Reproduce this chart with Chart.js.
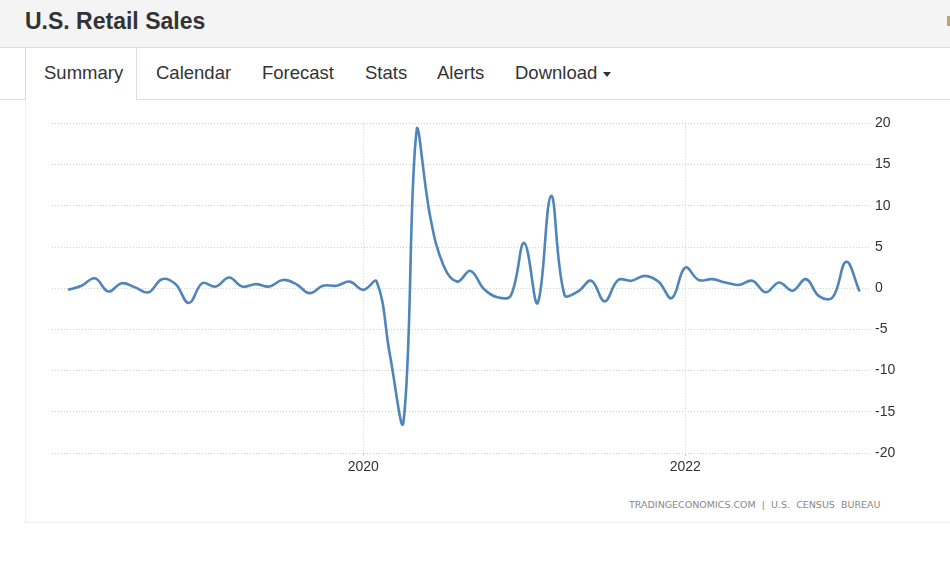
<!DOCTYPE html>
<html>
<head>
<meta charset="utf-8">
<script src="https://cdn.jsdelivr.net/npm/chart.js@4.4.0/dist/chart.umd.min.js"></script>
<style>
  body { margin: 0; width: 950px; height: 562px; background: #fff; overflow: hidden;
         font-family: "Liberation Sans", Arial, sans-serif; color: #333; position: relative; }
  .header { position: absolute; left: 0; top: 0; width: 950px; height: 47px; background: #f4f4f4;
            border-bottom: 1px solid #dcdcdc; }
  .header h1 { margin: 0; position: absolute; left: 25px; top: 8px; font-size: 23px; font-weight: bold; color: #333; }
  .header .mark { position: absolute; left: 947px; top: 16px; width: 3px; height: 10px; background: #c8a060; }
  .tabline { position: absolute; top: 99px; height: 1px; background: #ddd; }
  .tab { position: absolute; top: 62px; font-size: 18.5px; color: #333; }
  .active { position: absolute; left: 25px; top: 48px; width: 110px; height: 52px;
            border-left: 1px solid #ddd; border-right: 1px solid #ddd; background: #fff; }
  .panel { position: absolute; left: 25px; top: 100px; width: 930px; height: 422px;
           border-left: 1px solid #eee; border-bottom: 1px solid #eee; }
  .caret { display: inline-block; width: 0; height: 0; margin-left: 6px; vertical-align: middle;
           border-left: 4px solid transparent; border-right: 4px solid transparent; border-top: 5px solid #333; }
  #wrap { position: absolute; left: 40px; top: 111px; width: 880px; height: 370px; }
  .source { position: absolute; left: 629px; top: 499px; font-family: "DejaVu Sans", sans-serif;
            font-size: 9.5px; color: #888; white-space: pre; }
</style>
</head>
<body>
<div class="header"><h1>U.S. Retail Sales</h1><div class="mark"></div></div>
<div class="tabline" style="left:0;width:25px"></div>
<div class="tabline" style="left:136px;width:814px"></div>
<div class="active"></div>
<div class="panel"></div>
<div class="tab" style="left:44px">Summary</div>
<div class="tab" style="left:156px">Calendar</div>
<div class="tab" style="left:262px">Forecast</div>
<div class="tab" style="left:365px">Stats</div>
<div class="tab" style="left:437px">Alerts</div>
<div class="tab" style="left:515px">Download<span class="caret"></span></div>
<div id="wrap"><canvas id="chart"></canvas></div>
<div class="source">TRADINGECONOMICS.COM  |  U.S.  CENSUS  BUREAU</div>

<script>
// monthly change, %
const months = [
  "2018-03","2018-04","2018-05","2018-06","2018-07","2018-08","2018-09","2018-10","2018-11","2018-12",
  "2019-01","2019-02","2019-03","2019-04","2019-05","2019-06","2019-07","2019-08","2019-09","2019-10","2019-11","2019-12",
  "2020-01","2020-02","2020-03","2020-04","2020-05","2020-06","2020-07","2020-08","2020-09","2020-10","2020-11","2020-12",
  "2021-01","2021-02","2021-03","2021-04","2021-05","2021-06","2021-07","2021-08","2021-09","2021-10","2021-11","2021-12",
  "2022-01","2022-02","2022-03","2022-04","2022-05","2022-06","2022-07","2022-08","2022-09","2022-10","2022-11","2022-12",
  "2023-01","2023-02"
];
const sales = [
  -0.2, 0.3, 1.2, -0.4, 0.6, 0.1, -0.5, 1.1, 0.5, -1.8,
  0.6, 0.2, 1.3, 0.2, 0.5, 0.2, 1.0, 0.5, -0.6, 0.3, 0.3, 0.8,
  -0.2, 0.8, -8.2, -16.2, 19.4, 8.6, 2.7, 0.8, 2.1, -0.1, -1.1, -0.9,
  5.5, -1.8, 11.2, -0.8, -0.4, 0.9, -1.6, 1.0, 0.9, 1.5, 0.8, -1.2,
  2.5, 1.0, 1.1, 0.7, 0.4, 0.9, -0.5, 0.7, -0.3, 1.1, -1.0, -1.1,
  3.2, -0.4
];
const yearTicks = ["2020", "2022"];
const yTicks = [20, 15, 10, 5, 0, -5, -10, -15, -20];

// months counted from Jan 2020
const monthIndex = s => (parseInt(s.slice(0, 4)) - 2020) * 12 + parseInt(s.slice(5, 7)) - 1;
const points = months.map((m, i) => ({ x: monthIndex(m), y: sales[i] }));
const yearVals = yearTicks.map(y => (parseInt(y) - 2020) * 12);

const ctx = document.getElementById("chart").getContext("2d");
new Chart(ctx, {
  type: "line",
  data: {
    datasets: [{
      data: points,
      borderColor: "#4f86b9",
      borderWidth: 2.6,
      pointRadius: 0,
      tension: 0.4,
      fill: false
    }]
  },
  options: {
    responsive: true,
    maintainAspectRatio: false,
    animation: false,
    layout: { padding: { left: 12, top: 12, right: 0, bottom: 0 } },
    plugins: { legend: { display: false }, tooltip: { enabled: false } },
    scales: {
      x: {
        type: "linear",
        min: -23.2,
        max: 37.85,
        afterBuildTicks: s => { s.ticks = yearVals.map(v => ({ value: v })); },
        afterFit: s => { s.height = 28; },
        grid: { color: "#cfcfcf", tickLength: 3, drawOnChartArea: true },
        border: { display: false, dash: [1, 2] },
        ticks: {
          padding: 3,
          maxRotation: 0,
          color: "#333",
          font: { family: "'Liberation Sans', Arial, sans-serif", size: 14 },
          callback: v => String(2020 + v / 12)
        }
      },
      y: {
        position: "right",
        min: -20,
        max: 20,
        afterBuildTicks: s => { s.ticks = yTicks.map(v => ({ value: v })); },
        afterFit: s => { s.width = 49; },
        grid: { color: "#cfcfcf", drawTicks: false },
        border: { display: false, dash: [1, 2] },
        ticks: {
          padding: 4,
          color: "#333",
          font: { family: "'Liberation Sans', Arial, sans-serif", size: 14 }
        }
      }
    }
  }
});
</script>
</body>
</html>
